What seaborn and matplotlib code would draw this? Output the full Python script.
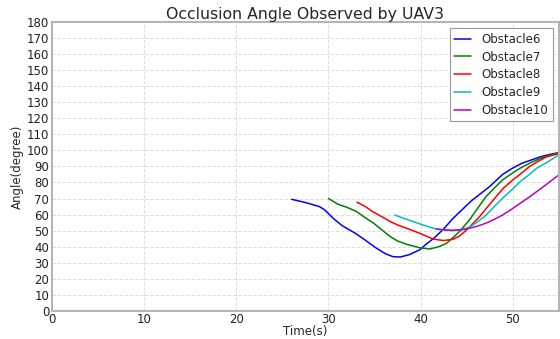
import matplotlib
matplotlib.use("Agg")
import matplotlib.pyplot as plt
import seaborn as sns
import numpy as np

# ---- data ----
t6 = [26, 27.5, 29, 29.6, 30.5, 31.5, 33, 34, 35.2, 36.2, 37, 37.8, 38.8, 39.9, 40.5, 41.5,
      42.5, 43.5, 44.5, 45.5, 46.5, 47.5, 48.9, 50, 51, 52, 53, 54, 55]
a6 = [69.5, 67.5, 65, 62.9, 57.7, 53, 48, 44, 39, 35.5, 33.7, 33.5, 35, 38, 41, 45.5,
      51, 57.5, 63, 68.5, 73, 77.5, 85, 89, 92, 94, 96, 97.5, 98.6]

t7 = [30, 31, 32, 33, 34, 34.9, 36, 36.7, 37.5, 38.5, 39.9, 41, 42, 42.8, 43.5, 44.2,
      45.3, 46.2, 47.1, 48, 48.9, 50, 50.8, 52, 53, 54, 55]
a7 = [70, 66.5, 64.5, 62, 58, 54.6, 49.5, 46.2, 43.5, 41.4, 39.3, 38.5, 40, 42, 45.5, 49.3,
      56.6, 64, 71.2, 76.5, 81.6, 86, 88.9, 92.5, 95, 97, 98.6]

t8 = [33.1, 34, 34.8, 36, 36.7, 37.5, 38.5, 39.9, 41.4, 42.5, 43.5, 44.2, 45, 45.7, 46.4,
      47.3, 48.2, 49, 50, 51, 51.8, 52.7, 53.6, 54.3, 55]
a8 = [67.7, 65, 61.8, 58, 55.6, 53.5, 51.4, 48.3, 44.6, 43.8, 44.5, 46.5, 50.4, 54.5, 58.7,
      65, 71.2, 76.5, 81.6, 86, 89.9, 93, 95.8, 97, 98]

t9 = [37.2, 38, 39.2, 40, 41.4, 42.5, 43.5, 44.5, 45.3, 46.2, 47.1, 48, 48.9, 50, 50.8,
      51.7, 52.6, 53.7, 55]
a9 = [59.7, 58, 55.6, 54, 51.4, 50.2, 49.9, 50.8, 52, 55.5, 59.7, 65, 70.2, 76, 80.5,
      84.5, 88.9, 92.5, 97.2]

t10 = [41.7, 42.5, 43.5, 44.5, 45.3, 46.2, 47.1, 48, 48.9, 49.8, 50.8, 51.7, 52.6, 53.7, 55]
a10 = [51, 50.5, 50.2, 50.5, 51.4, 52.8, 54.6, 57, 59.7, 63, 67, 70.5, 74.3, 79, 84.7]

labels = ["Obstacle6", "Obstacle7", "Obstacle8", "Obstacle9", "Obstacle10"]
colors = ["#0000ff", "#008000", "#ff0000", "#00bfbf", "#bf00bf"]
xticks = [0, 10, 20, 30, 40, 50]
yticks = list(range(0, 181, 10))

sns.set_style("whitegrid", {"grid.linestyle": "--", "grid.color": "#dddddd",
                            "axes.edgecolor": "#b5b5b5"})
plt.rcParams['font.family'] = ['DejaVu Sans']

fig = plt.figure(figsize=(5.6, 3.39), dpi=100)
ax = fig.add_axes([0.0929, 0.0835, 0.905, 0.851])

series = [(t6, a6), (t7, a7), (t8, a8), (t9, a9), (t10, a10)]
for (t, a), lab, c in zip(series, labels, colors):
    sns.lineplot(x=t, y=a, ax=ax, color=c, label=lab, linewidth=1.1, sort=False)

ax.set_xlim(0, 55)
ax.set_ylim(0, 180)
ax.set_xticks(xticks)
ax.set_yticks(yticks)
ax.tick_params(length=0, labelsize=8.5, pad=2, colors="#222222")
ax.grid(True, linestyle="--", color="#dddddd", linewidth=0.7)
for s in ax.spines.values():
    s.set_color("#b5b5b5")
    s.set_linewidth(1.5)

ax.set_title("Occlusion Angle Observed by UAV3", fontsize=11.3, pad=2)
ax.set_xlabel("Time(s)", fontsize=8.5, labelpad=-1)
ax.set_ylabel("Angle(degree)", fontsize=8.5, labelpad=2)

leg = ax.legend(loc="upper right", fontsize=8.5, frameon=True, fancybox=False,
                framealpha=1, edgecolor="#999999", handlelength=1.4,
                handletextpad=0.9, borderaxespad=0.5, labelspacing=0.4)
leg.get_frame().set_linewidth(0.8)

fig.savefig("out.png", dpi=100)
